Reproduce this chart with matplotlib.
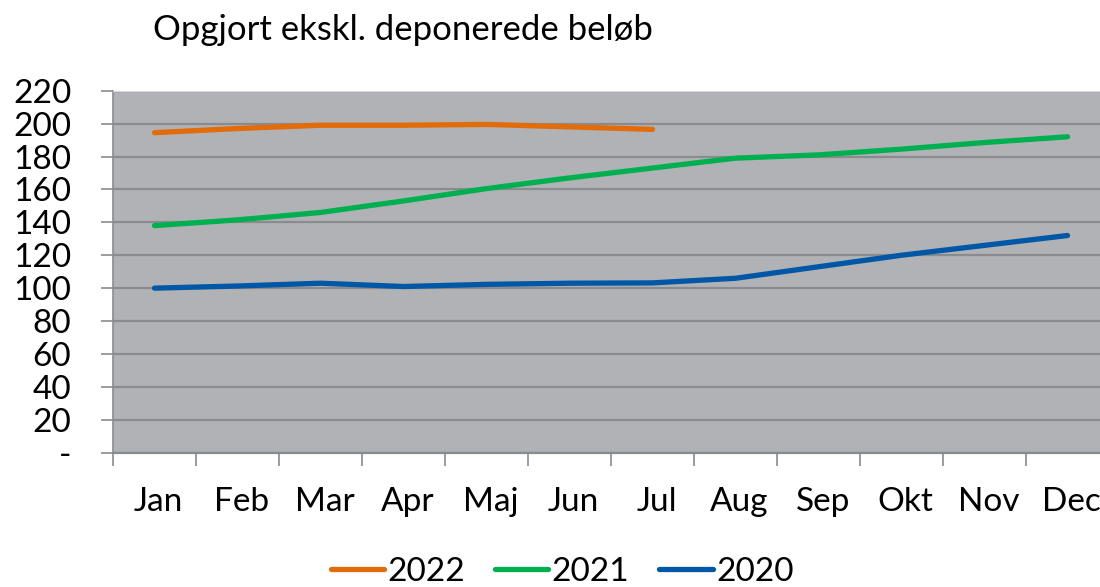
import matplotlib
matplotlib.use("Agg")
import matplotlib.pyplot as plt
from matplotlib.lines import Line2D
import numpy as np

months = ["Jan", "Feb", "Mar", "Apr", "Maj", "Jun", "Jul", "Aug", "Sep", "Okt", "Nov", "Dec"]
s2022 = [194.5, 197, 199, 199, 199.5, 198, 196.5]
s2021 = [138, 141.5, 146, 153, 160.5, 167, 173, 179, 181, 184.5, 188.5, 192]
s2020 = [100, 101.3, 103, 101, 102.3, 103, 103.2, 106, 113, 120, 126, 132]
series_names = ["2022", "2021", "2020"]
colors = ["#E36C0A", "#00B050", "#0057A6"]
yticks = list(range(0, 221, 20))
ytick_labels = ["-"] + [str(v) for v in yticks[1:]]

FONT = ["Lato", "DejaVu Sans"]
W, H = 1100, 587
fig = plt.figure(figsize=(W / 100, H / 100), dpi=100)
left, right, top, bottom = 113, 1109, 90.7, 452.7
ax = fig.add_axes([left / W, 1 - bottom / H, (right - left) / W, (bottom - top) / H])
ax.set_facecolor("#B1B2B5")

x = np.arange(len(months))
for data, c in zip([s2022, s2021, s2020], colors):
    ax.plot(x[:len(data)], data, color=c, lw=3.8, solid_capstyle="round", solid_joinstyle="round", zorder=3)

ax.set_xlim(-0.5, 11.5)
ax.set_ylim(0, 220)
ax.set_yticks(yticks)
ax.set_yticklabels(ytick_labels, fontsize=24, family=FONT)
ax.yaxis.grid(True, color="#8A8B8E", lw=1.6, zorder=1)
ax.set_axisbelow(True)

ax.set_xticks(np.arange(-0.5, 12, 1))
ax.set_xticklabels([])
ax.tick_params(axis="x", length=9, width=1.2, color="#8A8B8E", direction="out")
ax.tick_params(axis="y", length=9, width=1.2, color="#8A8B8E", direction="out", pad=21)

ax.spines["right"].set_visible(False)
ax.spines["top"].set_color("#D8D8D8")
ax.spines["left"].set_color("#8A8B8E")
ax.spines["bottom"].set_color("#8A8B8E")
ax.spines["left"].set_linewidth(1.2)
ax.spines["bottom"].set_linewidth(1.6)

for i, m in enumerate(months):
    ax.text(i + 0.05, -0.135, m, transform=ax.get_xaxis_transform(), ha="center", va="center",
            fontsize=24, family=FONT)

fig.text(153 / W, 1 - 30 / H, "Opgjort ekskl. deponerede beløb", ha="left", va="center",
         fontsize=25, family=FONT)

handles = [Line2D([0], [0], color=c, lw=3.8, solid_capstyle="round") for c in colors]
leg = fig.legend(handles, series_names, loc="center", bbox_to_anchor=(562 / W, 1 - 572 / H),
                 ncol=3, frameon=False, handlelength=1.6, handletextpad=0.1, columnspacing=0.9,
                 prop={"family": FONT, "size": 24})

fig.savefig("out.png", dpi=100)
